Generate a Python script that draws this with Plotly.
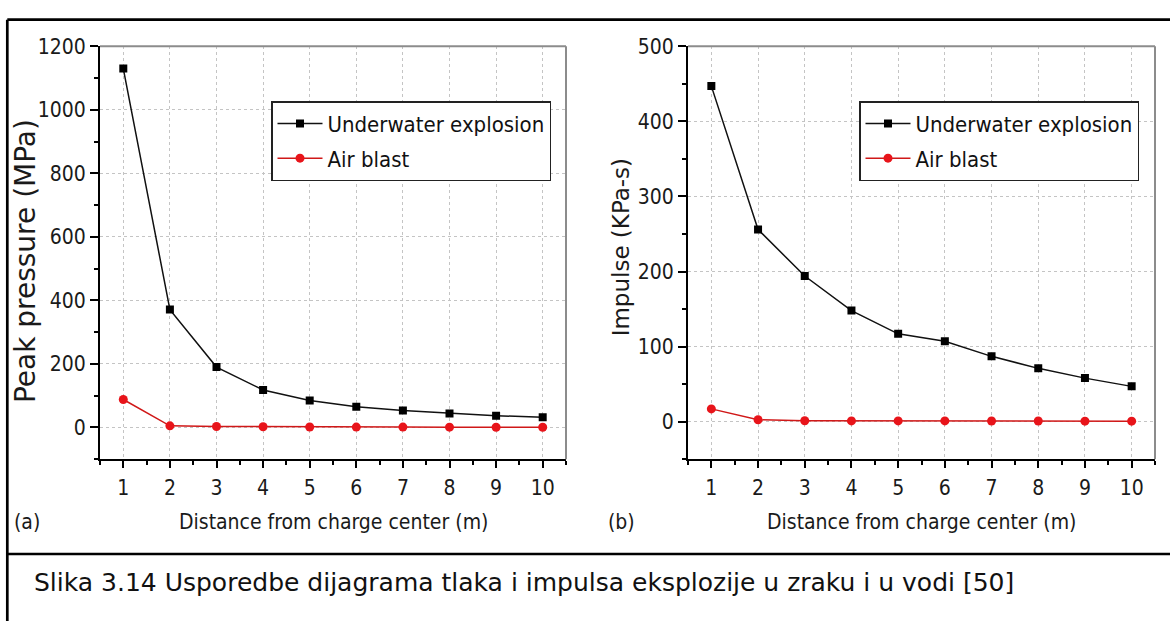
import plotly.graph_objects as go

# ---------------- data ----------------
distance = [1, 2, 3, 4, 5, 6, 7, 8, 9, 10]
pressure_underwater = [1130, 371, 190, 118, 85, 65, 53, 44, 37, 32]
pressure_air = [88, 5, 3, 2, 1.5, 1, 1, 0.8, 0.6, 0.5]
impulse_underwater = [447, 256, 194, 148, 117, 107, 87, 71, 58, 47]
impulse_air = [17, 2.5, 1.2, 1, 1, 1, 0.8, 0.8, 0.7, 0.7]

series_names = ["Underwater explosion", "Air blast"]
x_title = "Distance from charge center (m)"
y_titles = ["Peak pressure (MPa)", "Impulse (KPa-s)"]
panel_labels = ["(a)", "(b)"]
caption = "Slika 3.14 Usporedbe dijagrama tlaka i impulsa eksplozije u zraku i u vodi [50]"

W, H = 1170, 621
NARROW = "Liberation Sans Narrow, DejaVu Sans Condensed, sans-serif"
WIDE = "DejaVu Sans, Liberation Sans, sans-serif"


def px(x):
    return x / W


def py(y):
    return 1 - y / H


BLACK_LINE = "#111111"
RED = "#e8141a"
RED_LINE = "#d01818"

fig = go.Figure()

fig.add_trace(go.Scatter(x=distance, y=pressure_underwater, name=series_names[0],
                         mode="lines+markers", xaxis="x", yaxis="y", legend="legend",
                         legendgroup="uw",
                         line=dict(color=BLACK_LINE, width=1.5),
                         marker=dict(symbol="square", size=8, color="black")))
fig.add_trace(go.Scatter(x=distance, y=pressure_air, name=series_names[1],
                         mode="lines+markers", xaxis="x", yaxis="y", legend="legend",
                         legendgroup="air",
                         line=dict(color=RED_LINE, width=1.5),
                         marker=dict(symbol="circle", size=9, color=RED)))
fig.add_trace(go.Scatter(x=distance, y=impulse_underwater, name=series_names[0],
                         mode="lines+markers", xaxis="x2", yaxis="y2", legend="legend2",
                         legendgroup="uw2",
                         line=dict(color=BLACK_LINE, width=1.5),
                         marker=dict(symbol="square", size=8, color="black")))
fig.add_trace(go.Scatter(x=distance, y=impulse_air, name=series_names[1],
                         mode="lines+markers", xaxis="x2", yaxis="y2", legend="legend2",
                         legendgroup="air2",
                         line=dict(color=RED_LINE, width=1.5),
                         marker=dict(symbol="circle", size=9, color=RED)))

tickfont = dict(family=NARROW, size=21, color="#1a1a1a")
GRID = "#c4c4c4"
GRID_DASH = "3px,3px"

common_x = dict(range=[0.5, 10.5], tick0=1, dtick=1, ticks="outside", ticklen=7,
                tickwidth=2, tickcolor="black", showline=True, linecolor="black",
                linewidth=2, showgrid=True, gridcolor=GRID, griddash=GRID_DASH,
                gridwidth=1, zeroline=False, tickfont=tickfont, ticklabelstandoff=2,
                minor=dict(ticks="outside", ticklen=4, tickwidth=1.5,
                           tickcolor="black", dtick=0.5, tick0=0.5, showgrid=False))

plot_top, plot_bot = 35, 456
ydom = [py(plot_bot), py(plot_top)]

legend_common = dict(xanchor="left", yanchor="top", bordercolor="#222222",
                     borderwidth=1.5, bgcolor="white", tracegroupgap=3,
                     traceorder="grouped", itemwidth=45,
                     font=dict(family=NARROW, size=22, color="#111111"))

fig.update_layout(
    width=W, height=H,
    margin=dict(l=0, r=0, t=0, b=0),
    paper_bgcolor="white", plot_bgcolor="white",
    xaxis=dict(domain=[px(100), px(566)], anchor="y", **common_x),
    xaxis2=dict(domain=[px(688), px(1155)], anchor="y2", **common_x),
    yaxis=dict(domain=ydom, anchor="x", range=[-100, 1200], tick0=0, dtick=200,
               ticks="outside", ticklen=8, tickwidth=2, tickcolor="black",
               showline=True, linecolor="black", linewidth=2,
               showgrid=True, gridcolor=GRID, griddash=GRID_DASH, gridwidth=1,
               zeroline=False, tickfont=tickfont,
               minor=dict(ticks="outside", ticklen=4, tickwidth=1.5,
                          tickcolor="black", dtick=100, tick0=0, showgrid=False)),
    yaxis2=dict(domain=ydom, anchor="x2", range=[-50, 500], tick0=0, dtick=100,
                ticks="outside", ticklen=8, tickwidth=2, tickcolor="black",
                showline=True, linecolor="black", linewidth=2,
                showgrid=True, gridcolor=GRID, griddash=GRID_DASH, gridwidth=1,
                zeroline=False, tickfont=tickfont,
                minor=dict(ticks="outside", ticklen=4, tickwidth=1.5,
                           tickcolor="black", dtick=50, tick0=0, showgrid=False)),
    legend=dict(x=px(271), y=py(91), **legend_common),
    legend2=dict(x=px(859), y=py(91), **legend_common),
    showlegend=True,
)

# plot frame (top/right grey)
shapes = []
for xr, yr in (("x domain", "y domain"), ("x2 domain", "y2 domain")):
    shapes.append(dict(type="line", xref=xr, yref=yr, x0=0, x1=1, y0=1, y1=1,
                       line=dict(color="#8c8c8c", width=2)))
    shapes.append(dict(type="line", xref=xr, yref=yr, x0=1, x1=1, y0=0, y1=1,
                       line=dict(color="#8c8c8c", width=2)))
# page border lines
shapes.append(dict(type="line", xref="paper", yref="paper", x0=px(7.3), x1=1,
                   y0=py(7.8), y1=py(7.8), line=dict(color="black", width=2.7)))
shapes.append(dict(type="line", xref="paper", yref="paper", x0=px(7.3), x1=px(7.3),
                   y0=py(7.8), y1=0, line=dict(color="black", width=2.7)))
shapes.append(dict(type="line", xref="paper", yref="paper", x0=px(7.3), x1=1,
                   y0=py(552.7), y1=py(552.7), line=dict(color="black", width=2.7)))
fig.update_layout(shapes=shapes)

ann = []
label_font = dict(family=NARROW, size=21, color="#1a1a1a")
for cx in (333, 921):
    ann.append(dict(text=x_title, x=px(cx), y=py(520), xref="paper", yref="paper",
                    xanchor="center", yanchor="middle", showarrow=False, font=label_font))
for lbl, cx in zip(panel_labels, (27, 621)):
    ann.append(dict(text=lbl, x=px(cx), y=py(520), xref="paper", yref="paper",
                    xanchor="center", yanchor="middle", showarrow=False, font=label_font))
for t, cx, cy, fs in zip(y_titles, (25, 621), (254, 240), (28, 23)):
    ann.append(dict(text=t, x=px(cx), y=py(cy), xref="paper", yref="paper",
                    xanchor="center", yanchor="middle", showarrow=False, textangle=-90,
                    font=dict(family=WIDE, size=fs, color="#1a1a1a")))
ann.append(dict(text=caption, x=px(32), y=py(582), xref="paper", yref="paper",
                xanchor="left", yanchor="middle", showarrow=False,
                font=dict(family="DejaVu Sans, sans-serif", size=25, color="#111111")))
fig.update_layout(annotations=ann)

fig.write_html("out.html",
               config={"displayModeBar": False},
               post_script="document.body.style.margin='0';document.body.style.overflow='hidden';")
